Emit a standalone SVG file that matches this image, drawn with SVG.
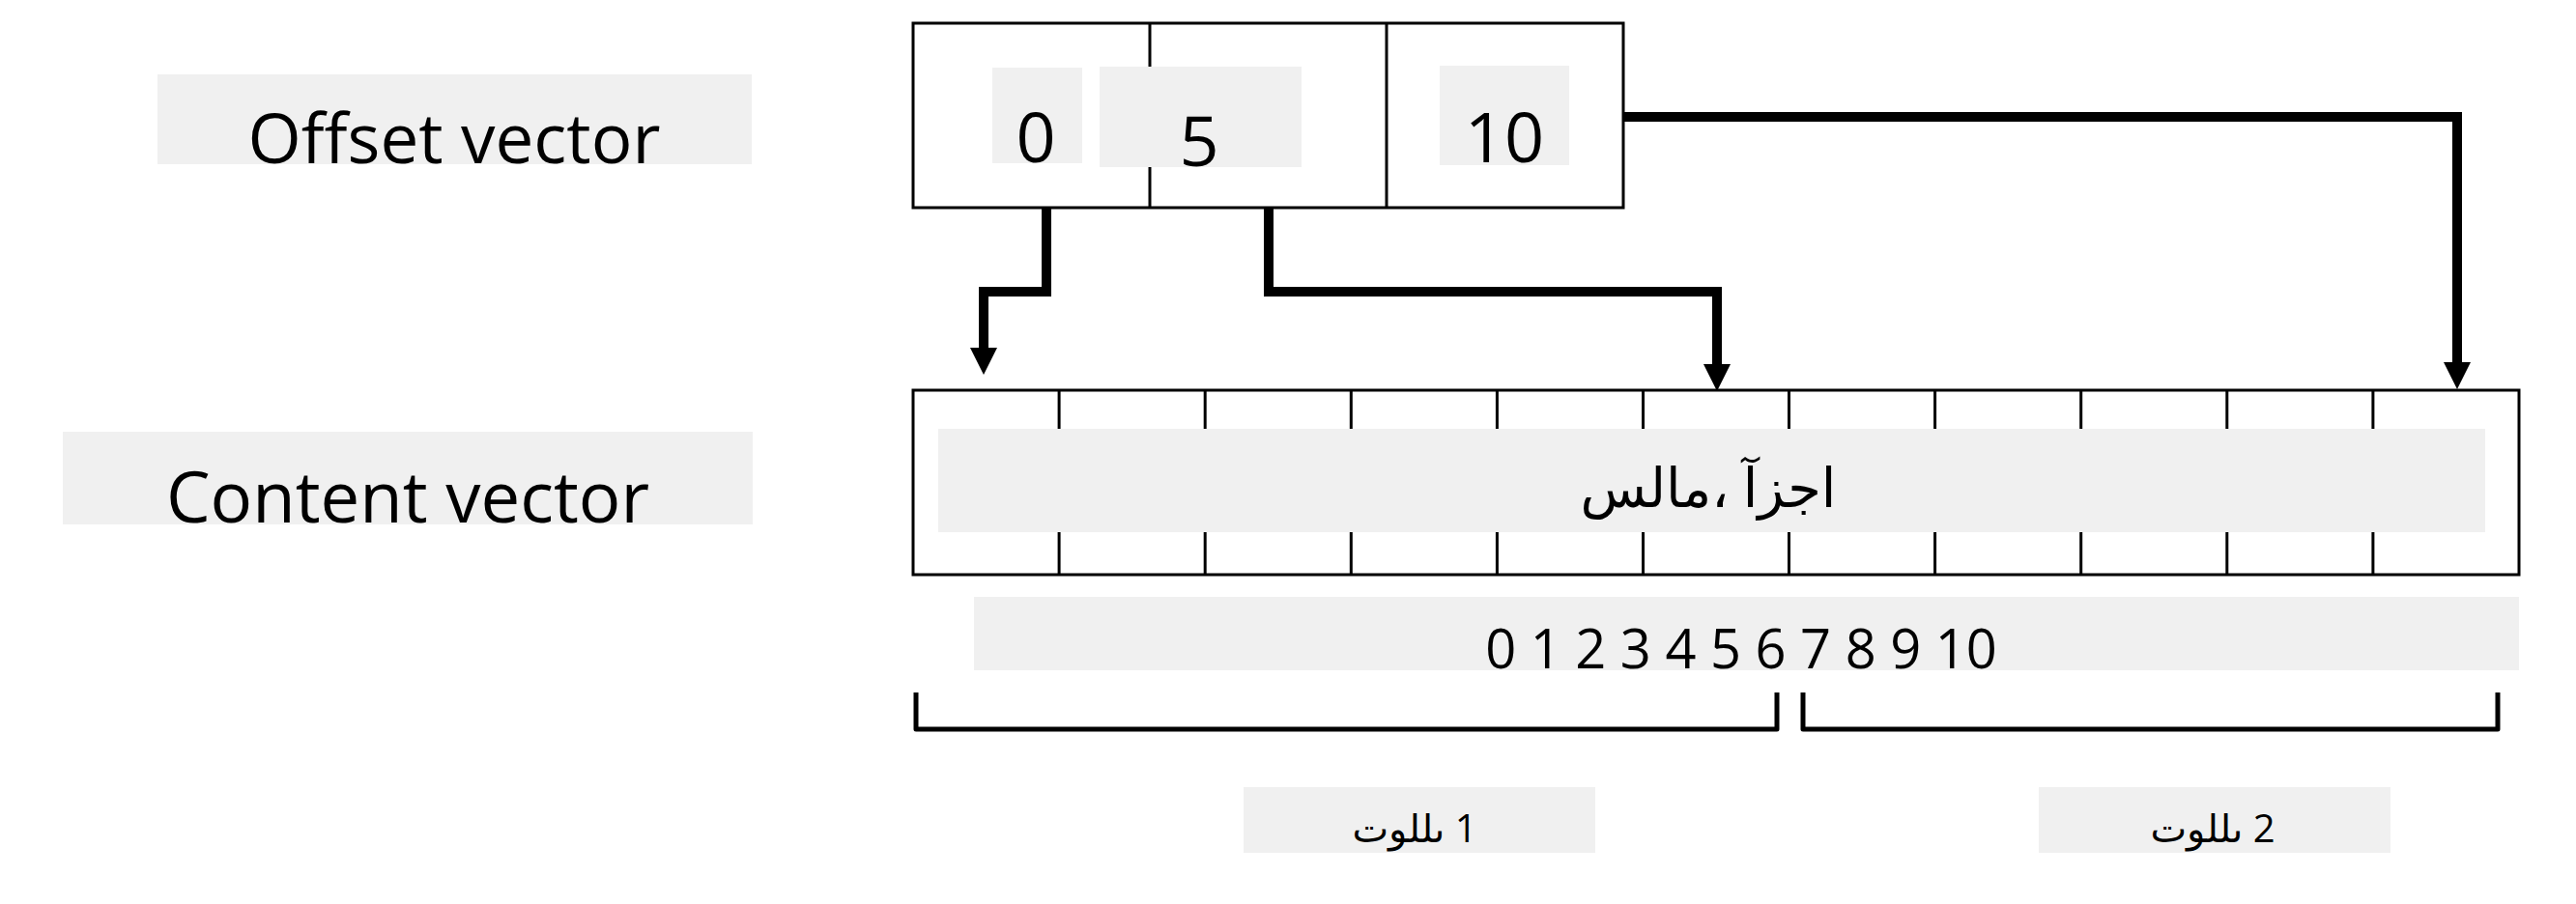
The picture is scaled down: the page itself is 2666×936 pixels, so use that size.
<svg xmlns="http://www.w3.org/2000/svg" width="2666" height="936" viewBox="0 0 2666 936">
<style>
.bg{fill:#f0f0f0;stroke:none}
.box{fill:#ffffff;stroke:#000;stroke-width:3}
.div{stroke:#000;stroke-width:3}
.t{font-family:"Open Sans","DejaVu Sans",sans-serif;fill:#000;text-anchor:middle}
.big{font-size:71px}
.big2{font-size:72.5px}
.num{font-size:72px}
.idx{font-size:56px}
.ar{font-size:56px}
.lab{font-size:40px}
.conn{fill:none;stroke:#000;stroke-width:10;stroke-linejoin:miter}
.br{fill:none;stroke:#000;stroke-width:5;stroke-linejoin:round}
</style>
<defs>
<marker id="ah" viewBox="0 0 28 28" refX="0" refY="14" markerWidth="28" markerHeight="28" markerUnits="userSpaceOnUse" orient="auto">
<path d="M0,0 L28,14 L0,28 z" fill="#000"/>
</marker>
</defs>
<rect width="2666" height="936" fill="#ffffff"/>
<g id="offset-label">
<rect class="bg" x="163" y="77" width="615" height="93"/>
<text class="t big" x="470" y="169">Offset vector</text>
</g>
<g id="content-label">
<rect class="bg" x="65" y="447" width="714" height="96"/>
<text class="t big2" x="422" y="541">Content vector</text>
</g>
<g id="offset-vector">
<rect class="box" x="945" y="24" width="735" height="191"/>
<line class="div" x1="1190" y1="24" x2="1190" y2="215"/>
<line class="div" x1="1435" y1="24" x2="1435" y2="215"/>
<rect class="bg" x="1027" y="70" width="93" height="99"/>
<rect class="bg" x="1138" y="69" width="209" height="104"/>
<rect class="bg" x="1490" y="68" width="134" height="103"/>
<text class="t num" x="1072" y="168">0</text>
<text class="t num" x="1241" y="172">5</text>
<text class="t num" x="1557" y="168">10</text>
</g>
<g id="content-vector">
<rect class="box" x="945" y="404" width="1662" height="191"/>
<g class="div">
<line x1="1096.1" y1="404" x2="1096.1" y2="595"/>
<line x1="1247.2" y1="404" x2="1247.2" y2="595"/>
<line x1="1398.3" y1="404" x2="1398.3" y2="595"/>
<line x1="1549.4" y1="404" x2="1549.4" y2="595"/>
<line x1="1700.5" y1="404" x2="1700.5" y2="595"/>
<line x1="1851.5" y1="404" x2="1851.5" y2="595"/>
<line x1="2002.6" y1="404" x2="2002.6" y2="595"/>
<line x1="2153.7" y1="404" x2="2153.7" y2="595"/>
<line x1="2304.8" y1="404" x2="2304.8" y2="595"/>
<line x1="2455.9" y1="404" x2="2455.9" y2="595"/>
</g>
<rect class="bg" x="971" y="444" width="1601" height="107"/>
<text class="t ar" x="1768" y="525" direction="rtl">اجزآ ،مالس</text>
</g>
<g id="indices">
<rect class="bg" x="1008" y="618" width="1599" height="76"/>
<text class="t idx" x="1802" y="692">0 1 2 3 4 5 6 7 8 9 10</text>
</g>
<g id="value1">
<path class="br" d="M948 717 V755 H1839 V717"/>
<rect class="bg" x="1287" y="815" width="364" height="68"/>
<text class="t lab" x="1464" y="872" direction="rtl">1 ىللوت</text>
</g>
<g id="value2">
<path class="br" d="M1866 717 V755 H2585 V717"/>
<rect class="bg" x="2110" y="815" width="364" height="68"/>
<text class="t lab" x="2290" y="872" direction="rtl">2 ىللوت</text>
</g>
<g id="connectors">
<path class="conn" d="M1083 215 V302 H1018 V360" marker-end="url(#ah)"/>
<path class="conn" d="M1313 215 V302 H1777 V377" marker-end="url(#ah)"/>
<path class="conn" d="M1680 121 H2543 V375" marker-end="url(#ah)"/>
</g>
</svg>
